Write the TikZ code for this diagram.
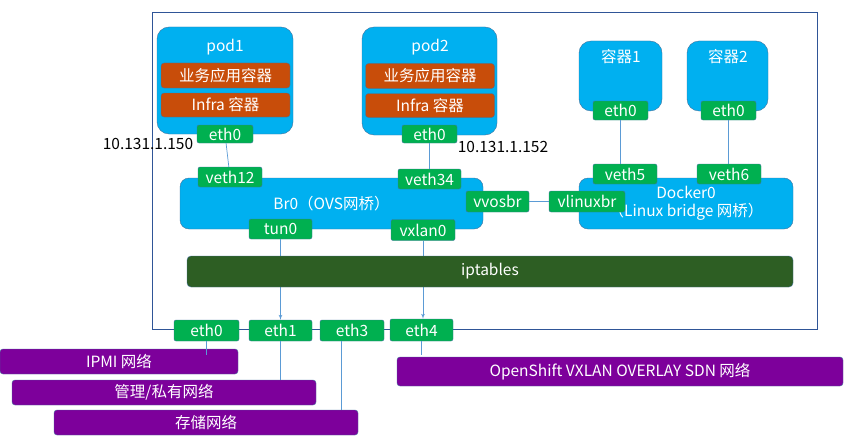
\documentclass[tikz,border=0pt]{standalone}
\usepackage{fontspec}
\setmainfont{Noto Sans CJK SC}
\usepackage{xcolor}
\usepackage{tikz}
\usetikzlibrary{shapes,arrows,positioning}

\definecolor{framec}{RGB}{47,85,151}
\definecolor{edgec}{RGB}{65,113,156}
\definecolor{cyanc}{RGB}{0,176,240}
\definecolor{orangec}{RGB}{200,77,10}
\definecolor{greenc}{RGB}{0,176,80}
\definecolor{purplec}{RGB}{125,0,155}
\definecolor{darkgreenc}{RGB}{45,94,35}
\definecolor{linec}{RGB}{91,155,213}

\begin{document}
\begin{tikzpicture}[x=1pt, y=-1pt, font=\fontsize{15.5}{18}\selectfont]
    % Styles
    \tikzstyle{host} = [rectangle, draw=framec, line width=0.8pt, inner sep=0pt]
    \tikzstyle{box} = [rectangle, draw=edgec, fill=cyanc, rounded corners=12pt, inner sep=0pt, text=white]
    \tikzstyle{bridge} = [rectangle, draw=edgec, fill=cyanc, rounded corners=9pt, minimum height=51pt, inner sep=0pt, text=white, align=center]
    \tikzstyle{title} = [text=white, inner sep=1pt]
    \tikzstyle{ctr} = [rectangle, draw=edgec, fill=orangec, rounded corners=3pt, minimum width=129pt, inner sep=0pt, text=white]
    \tikzstyle{port} = [rectangle, draw=edgec, fill=greenc, rounded corners=2pt, minimum height=20pt, inner sep=0pt, text=white]
    \tikzstyle{net} = [rectangle, draw=edgec, fill=purplec, rounded corners=3pt, minimum height=25pt, inner sep=0pt, text=white]
    \tikzstyle{ipaddr} = [text=black, inner sep=1pt]
    \tikzstyle{line} = [draw=linec, line width=0.7pt]
    \tikzstyle{arrowline} = [line, -latex']

    \useasboundingbox (0,0) rectangle (846,436);

    % Host frame
    \node [host, minimum width=665pt, minimum height=317pt] (host) at (484.5,170.5) {};

    % Pods
    \node [box, minimum width=136pt, minimum height=107pt] (pod1) at (225,80.5) {};
    \node [title] (pod1t) at (225,47) {pod1};
    \node [ctr, minimum height=25pt] (app1) at (225.5,75.5) {业务应用容器};
    \node [ctr, minimum height=24pt] (infra1) at (225.5,105) {Infra 容器};
    \node [port, minimum width=56pt, minimum height=18pt] (p1eth) at (225,134) {eth0};
    \node [ipaddr] (ip1) at (148,144) {10.131.1.150};

    \node [box, minimum width=135pt, minimum height=108pt] (pod2) at (429.5,81) {};
    \node [title] (pod2t) at (430,47) {pod2};
    \node [ctr, minimum height=25pt] (app2) at (430,76) {业务应用容器};
    \node [ctr, minimum height=24pt] (infra2) at (430,105.5) {Infra 容器};
    \node [port, minimum width=55pt, minimum height=18pt] (p2eth) at (429.5,134) {eth0};
    \node [ipaddr] (ip2) at (503,147) {10.131.1.152};

    % Docker containers
    \node [box, minimum width=83pt, minimum height=70pt] (c1) at (620.5,76) {};
    \node [title] (c1t) at (621,57) {容器1};
    \node [port, minimum width=55pt, minimum height=19pt] (c1eth) at (620.5,110.5) {eth0};
    \node [box, minimum width=81pt, minimum height=70pt] (c2) at (727.5,76) {};
    \node [title] (c2t) at (728,57) {容器2};
    \node [port, minimum width=55pt, minimum height=19pt] (c2eth) at (728.5,110.5) {eth0};

    % Bridges
    \node [bridge, minimum width=303pt] (br0) at (331.5,203.5) {Br0（OVS网桥）};
    \node [bridge, minimum width=214pt] (docker0) at (686,203.5) {Docker0\\（Linux bridge 网桥）};
    \node [port, minimum width=64pt] (veth12) at (230,177) {veth12};
    \node [port, minimum width=63pt] (veth34) at (429.5,179) {veth34};
    \node [port, minimum width=63pt] (tun0) at (280.5,229) {tun0};
    \node [port, minimum width=64pt, minimum height=21pt] (vxlan0) at (423,230) {vxlan0};
    \node [port, minimum width=63pt, minimum height=21pt] (vvosbr) at (497.5,201.5) {vvosbr};
    \node [port, minimum width=76pt, minimum height=21pt] (vlinuxbr) at (587,201.5) {vlinuxbr};
    \node [port, minimum width=64pt] (veth5) at (625,174) {veth5};
    \node [port, minimum width=64pt] (veth6) at (729,174) {veth6};

    % Edges inside host
    \path [line] (p1eth) -- (veth12);
    \path [line] (p2eth) -- (veth34);
    \path [line] (c1eth.south) -- (c1eth.south |- veth5.north);
    \path [line] (c2eth.south) -- (c2eth.south |- veth6.north);
    \path [line] (vvosbr) -- (vlinuxbr);

    % Host ports
    \node [port, minimum width=65pt, minimum height=21pt] (he0) at (206.5,330.5) {eth0};
    \node [port, minimum width=63pt, minimum height=21pt] (he1) at (280.5,330.5) {eth1};
    \node [port, minimum width=64pt, minimum height=21pt] (he3) at (352,330.5) {eth3};
    \node [port, minimum width=63pt, minimum height=22pt] (he4) at (421.5,330) {eth4};
    \path [arrowline] (tun0.south) -- (tun0.south |- he1.north);
    \path [arrowline] (vxlan0.south) -- (vxlan0.south |- he4.north);

    \node [rectangle, draw=edgec, fill=darkgreenc, rounded corners=4pt, minimum width=606pt, minimum height=31pt, inner sep=0pt, text=white] (ipt) at (490,271.5) {iptables};

    % Networks
    \node [net] (ipmi) at (119,361.5) [minimum width=238pt] {IPMI 网络};
    \node [net] (mgmt) at (164,392.5) [minimum width=304pt] {管理/私有网络};
    \node [net] (stor) at (206,422.5) [minimum width=304pt] {存储网络};
    \node [net] (osdn) at (620,371.5) [minimum width=446pt, minimum height=29pt] {OpenShift VXLAN OVERLAY SDN 网络};

    \path [line] (he0.south) -- ++(0,14);
    \path [line] (he1.south) -- (he1.south |- mgmt.north);
    \path [line] ([xshift=-11pt]he3.south) -- ([xshift=-11pt]he3.south |- stor.north);
    \path [line] (he4.south) -- ++(0,14);
\end{tikzpicture}
\end{document}
